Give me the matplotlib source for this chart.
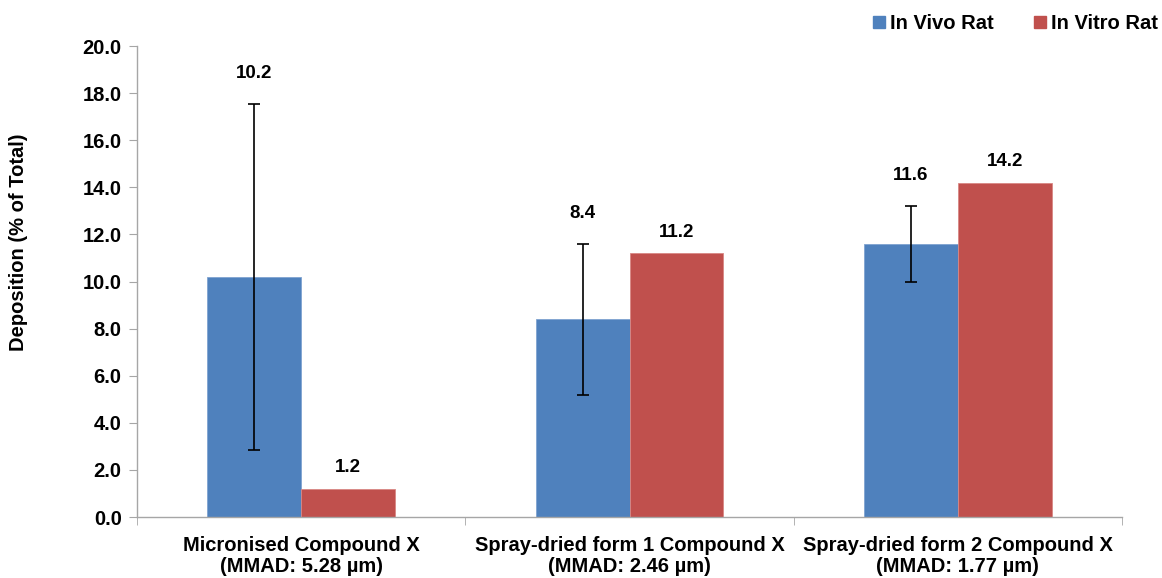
import matplotlib
matplotlib.use("Agg")
import matplotlib.pyplot as plt
from matplotlib.patches import Patch
import numpy as np

categories = ["Micronised Compound X\n(MMAD: 5.28 µm)",
              "Spray-dried form 1 Compound X\n(MMAD: 2.46 µm)",
              "Spray-dried form 2 Compound X\n(MMAD: 1.77 µm)"]
in_vivo = [10.2, 8.4, 11.6]
in_vivo_err = [7.35, 3.2, 1.6]
in_vitro = [1.2, 11.2, 14.2]
yticks = [0, 2, 4, 6, 8, 10, 12, 14, 16, 18, 20]

blue = "#4F81BD"
red = "#C0504D"

plt.rcParams["font.family"] = ["Liberation Sans", "DejaVu Sans"]
plt.rcParams["font.weight"] = "bold"

fig = plt.figure(figsize=(11.62, 5.78), dpi=100)
ax = fig.add_axes([0.1179, 0.1055, 0.8477, 0.8149])

x = np.arange(len(categories))
w = 0.286
ax.bar(x - w / 2, in_vivo, width=w, color=blue, edgecolor="#7FA3D0", linewidth=0.6,
       label="In Vivo Rat", zorder=2)
ax.bar(x + w / 2, in_vitro, width=w, color=red, edgecolor="#D98784", linewidth=0.6,
       label="In Vitro Rat", zorder=2)
ax.errorbar(x - w / 2, in_vivo, yerr=in_vivo_err, fmt="none", ecolor="black",
            elinewidth=1.2, capsize=4, capthick=1.2, zorder=3)

for xi, v, e in zip(x - w / 2, in_vivo, in_vivo_err):
    ax.annotate(f"{v:.1f}", (xi, v + e), xytext=(0, 22), textcoords="offset points",
                ha="center", va="center", fontsize=13.5, fontweight="bold")
for xi, v in zip(x + w / 2, in_vitro):
    ax.annotate(f"{v:.1f}", (xi, v), xytext=(0, 15), textcoords="offset points",
                ha="center", va="center", fontsize=13.5, fontweight="bold")

ax.set_xlim(-0.5, len(categories) - 0.5)
ax.set_ylim(0, 20)
ax.set_yticks(yticks)
ax.set_yticklabels([f"{t:.1f}" for t in yticks], fontsize=14.5, fontweight="bold")
ax.set_xticks(x)
ax.set_xticklabels(categories, fontsize=14.5, fontweight="bold", linespacing=1.12)
ax.tick_params(axis="x", length=0, pad=14)
ax.set_xticks(np.arange(len(categories) + 1) - 0.5, minor=True)
ax.tick_params(axis="x", which="minor", length=6, color="#A6A6A6", direction="out")
ax.tick_params(axis="y", length=6, color="#A6A6A6", direction="out", pad=5)

for s in ["top", "right"]:
    ax.spines[s].set_visible(False)
for s in ["left", "bottom"]:
    ax.spines[s].set_color("#A6A6A6")
    ax.spines[s].set_linewidth(1.0)

ax.set_ylabel("Deposition (% of Total)", fontsize=14.5, fontweight="bold")
ax.yaxis.set_label_coords(-0.111, 0.584)

handles = [Patch(color=blue, label="In Vivo Rat"), Patch(color=red, label="In Vitro Rat")]
fig.legend(handles=handles, loc="upper right", bbox_to_anchor=(1.012, 1.007), ncol=2,
           frameon=False, prop={"weight": "bold", "size": 14.5},
           handlelength=0.6, handleheight=0.6, handletextpad=0.25, columnspacing=2.0)

fig.savefig("out.png", dpi=100)
